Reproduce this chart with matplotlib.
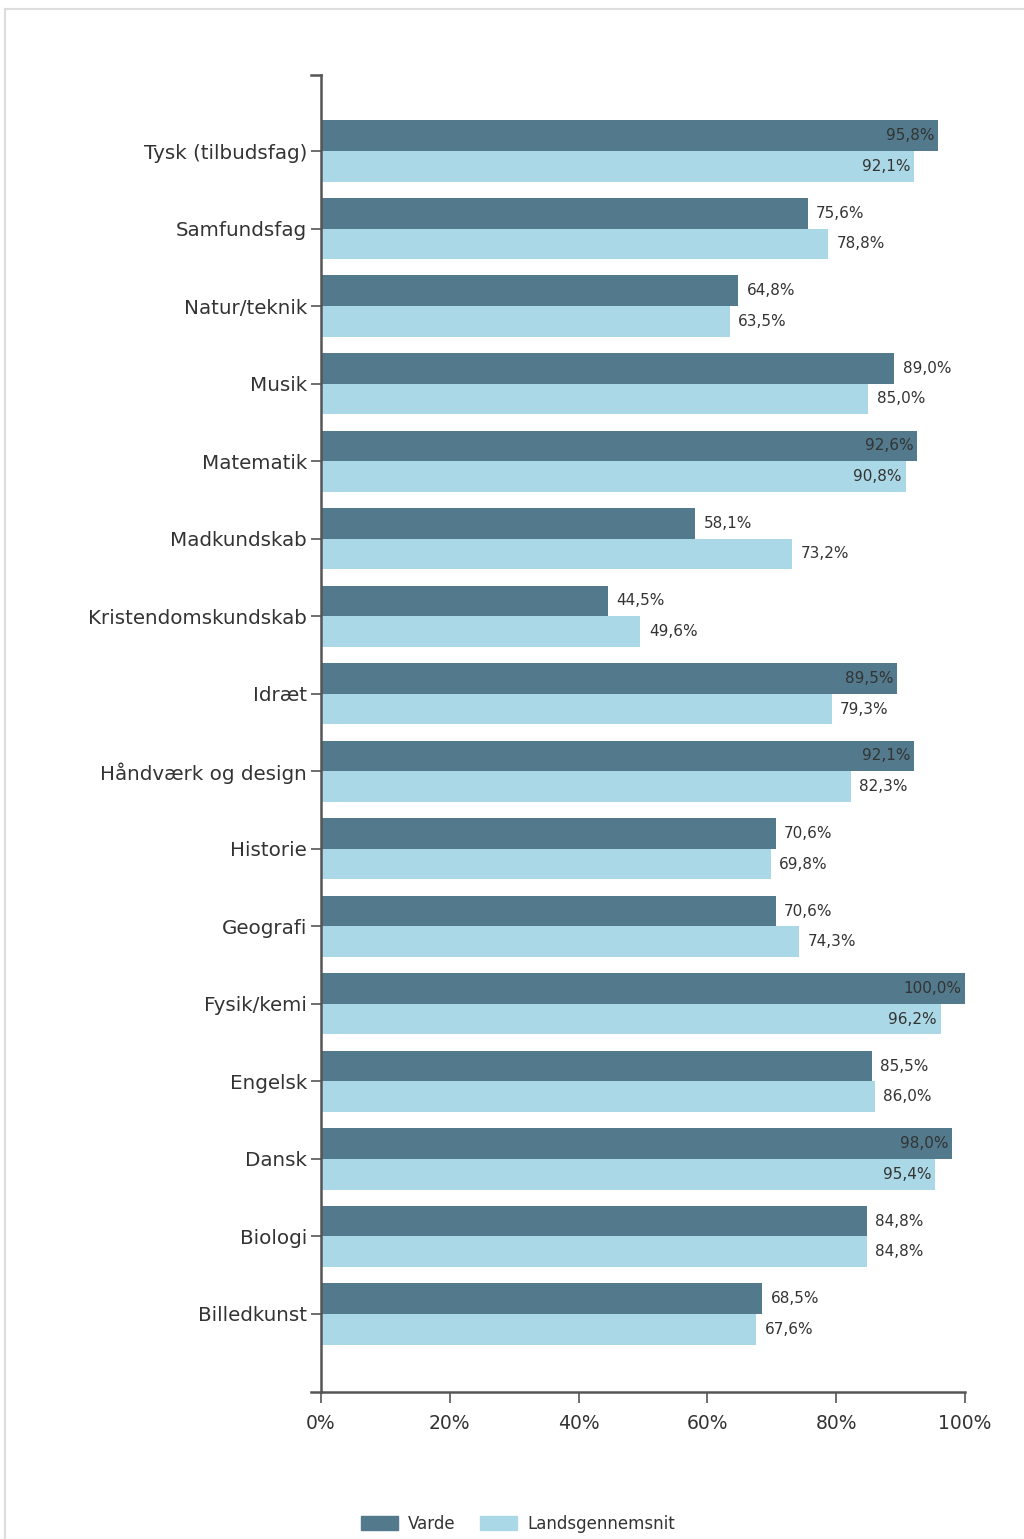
import matplotlib
matplotlib.use("Agg")
import matplotlib.pyplot as plt
from matplotlib.lines import Line2D
from matplotlib.patches import Rectangle

categories = ["Tysk (tilbudsfag)", "Samfundsfag", "Natur/teknik", "Musik", "Matematik",
              "Madkundskab", "Kristendomskundskab", "Idræt", "Håndværk og design",
              "Historie", "Geografi", "Fysik/kemi", "Engelsk", "Dansk", "Biologi", "Billedkunst"]
varde = [95.8, 75.6, 64.8, 89.0, 92.6, 58.1, 44.5, 89.5, 92.1, 70.6, 70.6, 100.0, 85.5, 98.0, 84.8, 68.5]
lands = [92.1, 78.8, 63.5, 85.0, 90.8, 73.2, 49.6, 79.3, 82.3, 69.8, 74.3, 96.2, 86.0, 95.4, 84.8, 67.6]
series_names = ["Varde", "Landsgennemsnit"]
xticks = [0, 20, 40, 60, 80, 100]
xticklabels = ["0%", "20%", "40%", "60%", "80%", "100%"]

dark = "#527a8c"
light = "#abd8e6"
axis_col = "#555555"
text_col = "#333333"

plt.rcParams['font.family'] = ['DejaVu Sans']

W, H = 1024, 1539
fig = plt.figure(figsize=(W / 100, H / 100), dpi=100)
left, right, top, bottom = 321, 965, 75, 1392
ax = fig.add_axes([left / W, 1 - bottom / H, (right - left) / W, (bottom - top) / H])

ys = list(range(len(categories)))
bh = 0.395
ax.barh([y - bh / 2 for y in ys], varde, height=bh, color=dark, label=series_names[0])
ax.barh([y + bh / 2 for y in ys], lands, height=bh, color=light, label=series_names[1])

def fmt(v):
    return f"{v:.1f}".replace(".", ",") + "%"

vfs = 11
for y, v in zip(ys, varde):
    if v > 89.25:
        ax.text(v - 0.6, y - bh / 2, fmt(v), ha="right", va="center", fontsize=vfs, color=text_col)
    else:
        ax.text(v + 1.3, y - bh / 2, fmt(v), ha="left", va="center", fontsize=vfs, color=text_col)
for y, v in zip(ys, lands):
    if v > 89.25:
        ax.text(v - 0.6, y + bh / 2, fmt(v), ha="right", va="center", fontsize=vfs, color=text_col)
    else:
        ax.text(v + 1.3, y + bh / 2, fmt(v), ha="left", va="center", fontsize=vfs, color=text_col)

ax.set_xlim(0, 100)
ax.set_ylim(15 + 78 / 77.5, -76 / 77.5)
ax.set_yticks(ys)
ax.set_yticklabels(categories, fontsize=14.3, color=text_col)
ax.set_xticks(xticks)
ax.set_xticklabels(xticklabels, fontsize=13.5, color=text_col)
for s in ["top", "right"]:
    ax.spines[s].set_visible(False)
for s in ["left", "bottom"]:
    ax.spines[s].set_color(axis_col)
    ax.spines[s].set_linewidth(1.8)
ax.tick_params(axis="y", length=7, width=1.2, color=axis_col, pad=3)
ax.tick_params(axis="x", length=8, width=1.2, color=axis_col, pad=8)

# outer ticks of the axes
ax.add_line(Line2D([-10 / 644, 0], [1, 1], transform=ax.transAxes, color=axis_col, lw=1.8, clip_on=False))
ax.add_line(Line2D([-10 / 644, 0], [0, 0], transform=ax.transAxes, color=axis_col, lw=1.8, clip_on=False))

# legend
handles = [Rectangle((0, 0), 1, 1, color=dark), Rectangle((0, 0), 1, 1, color=light)]
fig.legend(handles, series_names, loc="center left", bbox_to_anchor=(346 / W, 1 - 1524 / H),
           ncol=2, frameon=False, fontsize=12, handlelength=2.2, handleheight=0.9,
           columnspacing=1.5, handletextpad=0.6, labelcolor=text_col)

# light border of the surrounding panel
fig.add_artist(Line2D([5 / W, 1], [1 - 9 / H, 1 - 9 / H], transform=fig.transFigure, color="#dddddd", lw=1.5))
fig.add_artist(Line2D([5 / W, 5 / W], [0, 1 - 9 / H], transform=fig.transFigure, color="#dddddd", lw=1.5))

fig.savefig("out.png", dpi=100)
